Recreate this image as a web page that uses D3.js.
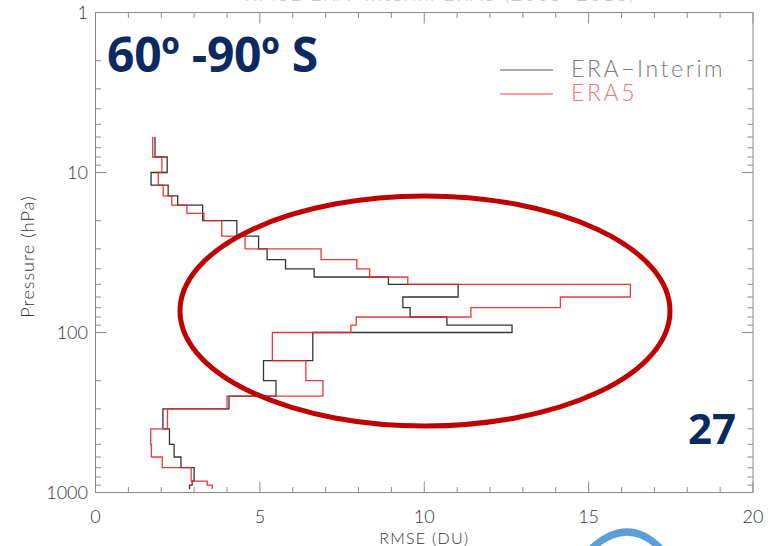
<!DOCTYPE html>
<html><head><meta charset="utf-8">
<script src="https://cdn.jsdelivr.net/npm/d3@7"></script>
<style>body{margin:0;background:#fff}svg{display:block}</style>
</head><body>
<svg id="chart" width="773" height="546"></svg>
<script>
// Layer boundaries (hPa), one RMSE value per layer
const layerTops    = [6,8,10,12,14,16,18,20,25,30,35,40,45,50,60,70,80,90,100,150,200,250,300,400,500,600,700,850,900];
const layerBottoms = [8,10,12,14,16,18,20,25,30,35,40,45,50,60,70,80,90,100,150,200,250,300,400,500,600,700,850,900,950];
const rmseEraInterim = [1.81,2.18,1.69,2.21,2.50,3.26,3.26,4.30,4.96,5.22,5.78,6.65,8.91,11.03,9.35,9.57,10.69,12.67,6.61,5.11,5.49,4.06,2.05,2.25,2.39,2.60,3.00,2.94,2.86];
const rmseEra5       = [1.74,2.02,1.91,2.06,2.32,2.78,3.30,3.84,4.55,6.86,7.95,8.34,9.50,16.27,14.14,11.42,7.93,7.77,5.38,6.40,6.92,4.00,2.19,1.68,1.70,2.03,2.91,3.40,3.55];
const seriesNames = ["ERA\u2212Interim", "ERA5"];
const xTickValues = [0,5,10,15,20];
const yTickValues = [1,10,100,1000];

const svg = d3.select("#chart");
const plotLeft = 95.5, plotRight = 753, plotTop = 12.5, plotBottom = 492.5;
const x = d3.scaleLinear().domain([0,20]).range([plotLeft,plotRight]);
const y = d3.scaleLog().domain([1,1000]).range([plotTop,plotBottom]);
const axisFont = "Lato, 'DejaVu Sans', sans-serif";
const frameColor = "#8c8c8c";

// heading above the frame (runs off the top edge)
svg.append("text").attr("x",440).attr("y",1).attr("text-anchor","middle")
  .attr("font-family",axisFont).attr("font-weight",300).attr("font-size",20)
  .attr("letter-spacing",1.5)
  .attr("fill","#c4c4c4").text("RMSE ERA\u2212Interim  ERA5 (2005\u22122016)");

// frame
svg.append("rect").attr("x",plotLeft).attr("y",plotTop)
  .attr("width",plotRight-plotLeft).attr("height",plotBottom-plotTop)
  .attr("fill","none").attr("stroke",frameColor).attr("stroke-width",1);

// x ticks, top and bottom, pointing inward
const xMinor = d3.range(0,21,1);
const tg = svg.append("g").attr("stroke",frameColor).attr("stroke-width",1);
xMinor.forEach(v=>{
  const len = v%5===0 ? 11 : 5.5;
  tg.append("line").attr("x1",x(v)).attr("x2",x(v)).attr("y1",plotBottom).attr("y2",plotBottom-len);
  tg.append("line").attr("x1",x(v)).attr("x2",x(v)).attr("y1",plotTop).attr("y2",plotTop+len);
});
// y ticks (log), left and right
const yMinor = [];
[1,10,100].forEach(d=>{ for(let k=1;k<=9;k++) yMinor.push(d*k); });
yMinor.push(1000);
yMinor.forEach(v=>{
  const major = yTickValues.includes(v);
  const len = major ? 11 : 5.5;
  tg.append("line").attr("x1",plotLeft).attr("x2",plotLeft+len).attr("y1",y(v)).attr("y2",y(v));
  tg.append("line").attr("x1",plotRight).attr("x2",plotRight-len).attr("y1",y(v)).attr("y2",y(v));
});

// tick labels
svg.append("g").selectAll("text").data(xTickValues).join("text")
  .attr("x",d=>x(d)).attr("y",523).attr("text-anchor","middle")
  .attr("font-family",axisFont).attr("font-weight",300).attr("font-size",18).attr("fill","#333")
  .text(d=>d);
svg.append("g").selectAll("text").data(yTickValues).join("text")
  .attr("x",88).attr("y",d=>y(d)+6).attr("text-anchor","end")
  .attr("font-family",axisFont).attr("font-weight",300).attr("font-size",18).attr("fill","#333")
  .text(d=>d);

// axis titles
svg.append("text").attr("x",x(10)).attr("y",544).attr("text-anchor","middle")
  .attr("font-family",axisFont).attr("font-weight",300).attr("font-size",16)
  .attr("letter-spacing",1.3).attr("fill","#333")
  .text("RMSE (DU)");
svg.append("text").attr("transform",`translate(34,${(plotTop+plotBottom)/2 + 4}) rotate(-90)`)
  .attr("text-anchor","middle")
  .attr("font-family",axisFont).attr("font-weight",300).attr("font-size",18)
  .attr("letter-spacing",1).attr("fill","#333")
  .text("Pressure (hPa)");

// step profiles: vertical segment over each layer, joined at shared boundaries
function profile(values){
  const pts = [];
  values.forEach((v,i)=>{ pts.push([v,layerTops[i]]); pts.push([v,layerBottoms[i]]); });
  return pts;
}
const line = d3.line().x(d=>x(d[0])).y(d=>y(d[1]));
const colors = ["#1e1e1e","#ee2222"];
[rmseEraInterim, rmseEra5].forEach((vals,i)=>{
  svg.append("path").attr("d",line(profile(vals))).attr("fill","none")
    .attr("stroke",colors[i]).attr("stroke-width",1.3).attr("stroke-opacity",0.9);
});

// legend
const legendColors = ["#7a7a7a","#f07878"];
const legendLine = ["#555","#ee4444"];
seriesNames.forEach((name,i)=>{
  const ly = 70 + i*24;
  svg.append("line").attr("x1",500).attr("x2",553).attr("y1",ly).attr("y2",ly)
    .attr("stroke",legendLine[i]).attr("stroke-width",1);
  svg.append("text").attr("x",571).attr("y",ly+7)
    .attr("font-family",axisFont).attr("font-weight",300).attr("font-size",23)
    .attr("letter-spacing",2.6)
    .attr("fill",legendColors[i]).text(name);
});

// highlight ellipse around the lower-stratosphere maximum
svg.append("ellipse").attr("cx",425).attr("cy",311).attr("rx",245).attr("ry",115)
  .attr("fill","none").attr("stroke","#c00000").attr("stroke-width",5);

// region label and slide number
const navy = "#0c2a60";
svg.append("text").attr("x",107).attr("y",72)
  .attr("font-family","'Open Sans', 'Noto Sans', sans-serif").attr("font-weight",700)
  .attr("font-size",48).attr("letter-spacing",-0.3).attr("fill",navy).text("60\u00ba -90\u00ba S");
svg.append("text").attr("x",736).attr("y",444).attr("text-anchor","end")
  .attr("font-family","'Open Sans', 'Noto Sans', sans-serif").attr("font-weight",700)
  .attr("font-size",42).attr("fill",navy).text("27");

// blue swoosh at the bottom edge
svg.append("path").attr("d","M592,548 Q628,516 660,548")
  .attr("fill","none").attr("stroke","#5a9fd8").attr("stroke-width",7).attr("stroke-linecap","round");
</script>
</body></html>
